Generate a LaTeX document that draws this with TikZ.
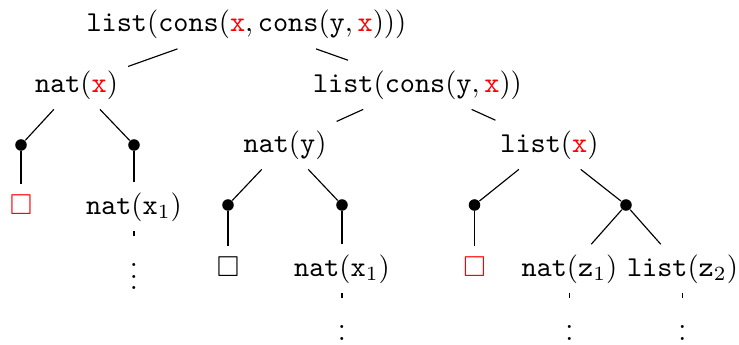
\documentclass[tikz,border=0pt]{standalone}
\usepackage{amssymb}
\begin{document}
\begin{tikzpicture}[x=0.347pt,y=-0.347pt,
  lbl/.style={anchor=base,inner sep=3.33pt},
  dot/.style={circle,fill=black,inner sep=0pt,minimum size=4pt},
  vd/.style={below=1.6pt,inner sep=3.33pt},
  conn/.style={line width=0.4pt}]
\useasboundingbox (0,0) rectangle (739,345);
\newcommand{\rx}{\textcolor{red}{\mathtt{x}}}
% nodes
\node[lbl] (root) at (246.5,31.5) {$\mathtt{list}(\mathtt{cons}(\rx,\mathtt{cons}(\mathtt{y},\rx)))$};
\node[lbl] (natx) at (76.5,92) {$\mathtt{nat}(\rx)$};
\node[lbl] (lc) at (417.5,92) {$\mathtt{list}(\mathtt{cons}(\mathtt{y},\rx))$};
\node[dot] (d1) at (21,145) {};
\node[dot] (d2) at (134,145) {};
\node[lbl] (sq1) at (21,214) {\color{red}$\square$};
\node[lbl] (nx1) at (134,214) {$\mathtt{nat}(\mathtt{x}_1)$};
\node[vd] (v1) at (nx1.south) {$\vdots$};
\node[lbl] (naty) at (285,152) {$\mathtt{nat}(\mathtt{y})$};
\node[lbl] (lx) at (549.5,152) {$\mathtt{list}(\rx)$};
\node[dot] (d3) at (228,205) {};
\node[dot] (d4) at (342,205) {};
\node[lbl] (sq2) at (228,276) {$\square$};
\node[lbl] (nx2) at (342,276) {$\mathtt{nat}(\mathtt{x}_1)$};
\node[vd] (v2) at (nx2.south) {$\vdots$};
\node[dot] (d5) at (474.5,205) {};
\node[dot] (d6) at (626,205) {};
\node[lbl] (sq3) at (474.5,276) {\color{red}$\square$};
\node[lbl] (nz1) at (569.5,276) {$\mathtt{nat}(\mathtt{z}_1)$};
\node[lbl] (lz2) at (682.5,276) {$\mathtt{list}(\mathtt{z}_2)$};
\node[vd] (v3) at (nz1.south) {$\vdots$};
\node[vd] (v4) at (lz2.south) {$\vdots$};
% connectors
\draw[conn] (root) -- (natx);
\draw[conn] (root) -- (lc);
\draw[conn] (natx) -- (d1);
\draw[conn] (natx) -- (d2);
\draw[conn] (d1) -- (sq1);
\draw[conn] (d2) -- (nx1);
\draw[conn] (nx1) -- (v1);
\draw[conn] (lc) -- (naty);
\draw[conn] (lc) -- (lx);
\draw[conn] (naty) -- (d3);
\draw[conn] (naty) -- (d4);
\draw[conn] (d3) -- (sq2);
\draw[conn] (d4) -- (nx2);
\draw[conn] (nx2) -- (v2);
\draw[conn] (lx) -- (d5);
\draw[conn] (lx) -- (d6);
\draw[conn] (d5) -- (sq3);
\draw[conn] (d6) -- (nz1);
\draw[conn] (d6) -- (lz2);
\draw[conn] (nz1) -- (v3);
\draw[conn] (lz2) -- (v4);
\end{tikzpicture}
\end{document}
